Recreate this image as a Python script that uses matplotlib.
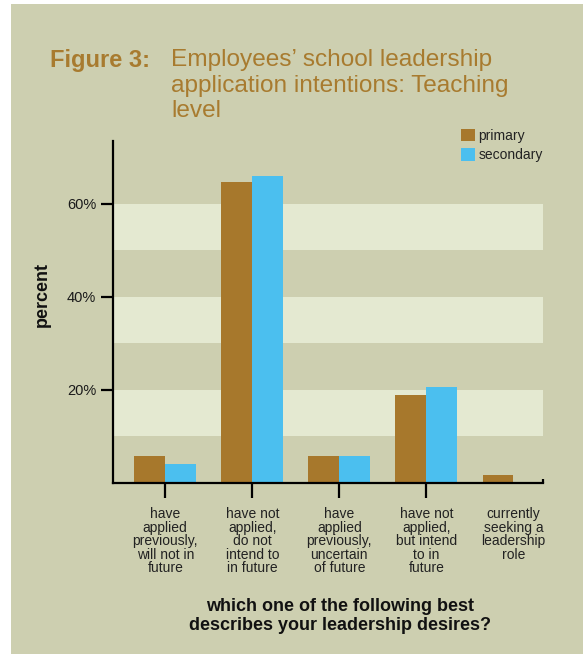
import matplotlib
matplotlib.use("Agg")
import matplotlib.pyplot as plt
from matplotlib.patches import Rectangle, Patch

plt.rcParams['font.family'] = ['Liberation Sans', 'DejaVu Sans']

categories = [
    "have\napplied\npreviously,\nwill not in\nfuture",
    "have not\napplied,\ndo not\nintend to\nin future",
    "have\napplied\npreviously,\nuncertain\nof future",
    "have not\napplied,\nbut intend\nto in\nfuture",
    "currently\nseeking a\nleadership\nrole",
]
primary = [5.8, 64.7, 5.8, 18.9, 1.7]
secondary = [4.1, 66.0, 5.8, 20.6, 0.0]
series_names = ["primary", "secondary"]
y_ticks = [20, 40, 60]
y_tick_labels = ["20%", "40%", "60%"]

PANEL = "#CDCFB0"
BAND = "#E4E9D1"
GOLD = "#A7782C"
BLUE = "#4BBFEF"
TITLE = "#A87B2F"

W, H = 583, 654
fig = plt.figure(figsize=(W / 100, H / 100), dpi=100, facecolor="white")

# khaki panel behind everything
fig.patches.append(Rectangle((11 / W, 0), 1 - 11 / W, 1 - 4 / H,
                             transform=fig.transFigure, facecolor=PANEL,
                             edgecolor="none", zorder=-10))

ax = fig.add_axes([113 / W, (H - 483) / H, (543 - 113) / W, (483 - 141) / H])
ax.set_facecolor("none")

# alternating light bands
for lo in (10, 30, 50):
    ax.axhspan(lo, lo + 10, color=BAND, lw=0, zorder=0)

x = list(range(len(categories)))
w = 0.355
ax.bar([i - w / 2 for i in x], primary, width=w, color=GOLD, zorder=2, linewidth=0)
ax.bar([i + w / 2 for i in x], secondary, width=w, color=BLUE, zorder=2, linewidth=0)

ax.set_xlim(-0.6, 4.34)
ax.set_ylim(0, 73.5)

for s in ("top", "right"):
    ax.spines[s].set_visible(False)
for s in ("left", "bottom"):
    ax.spines[s].set_linewidth(1.6)
    ax.spines[s].set_color("black")
    ax.spines[s].set_zorder(3)

# small upturn at the right end of the x axis
ax.plot([4.34, 4.34], [0, 0.9], color="black", lw=1.6, clip_on=False, zorder=3,
        solid_capstyle="butt")

ax.set_yticks(y_ticks)
ax.set_yticklabels(y_tick_labels, fontsize=10.5, color="#1a1a1a")
ax.tick_params(axis="y", direction="out", length=9, width=1.6, pad=3)

ax.set_xticks(x)
ax.set_xticklabels(categories, fontsize=10, color="#222222", linespacing=0.95,
                   va="top", ha="center")
ax.tick_params(axis="x", direction="out", length=10.5, width=1.6, pad=7)
ax.xaxis.get_major_ticks()[4].tick1line.set_visible(False)

# axis titles
fig.text(42 / W, 1 - 295 / H, "percent", rotation=90, fontsize=13,
         fontweight="bold", ha="center", va="center", color="#111111")
fig.text(340 / W, 1 - 616 / H, "which one of the following best\ndescribes your leadership desires?",
         fontsize=13, fontweight="bold", ha="center", va="center",
         color="#111111", linespacing=1.15)

# figure title
fig.text(50 / W, 1 - 49 / H, "Figure 3:", fontsize=17, fontweight="bold",
         color=TITLE, ha="left", va="top")
fig.text(171 / W, 1 - 49 / H,
         "Employees\u2019 school leadership\napplication intentions: Teaching\nlevel",
         fontsize=17.6, color=TITLE, ha="left", va="top", linespacing=1.22)

handles = [Patch(facecolor=GOLD, edgecolor="none"), Patch(facecolor=BLUE, edgecolor="none")]
fig.legend(handles, series_names, loc="upper left",
           bbox_to_anchor=(461 / W, 1 - 129 / H), frameon=False, fontsize=10,
           handlelength=1.0, handleheight=1.0, handletextpad=0.25,
           labelspacing=0.38, borderpad=0, borderaxespad=0,
           labelcolor="#222222")

fig.savefig("out.png", dpi=100, facecolor="white")
